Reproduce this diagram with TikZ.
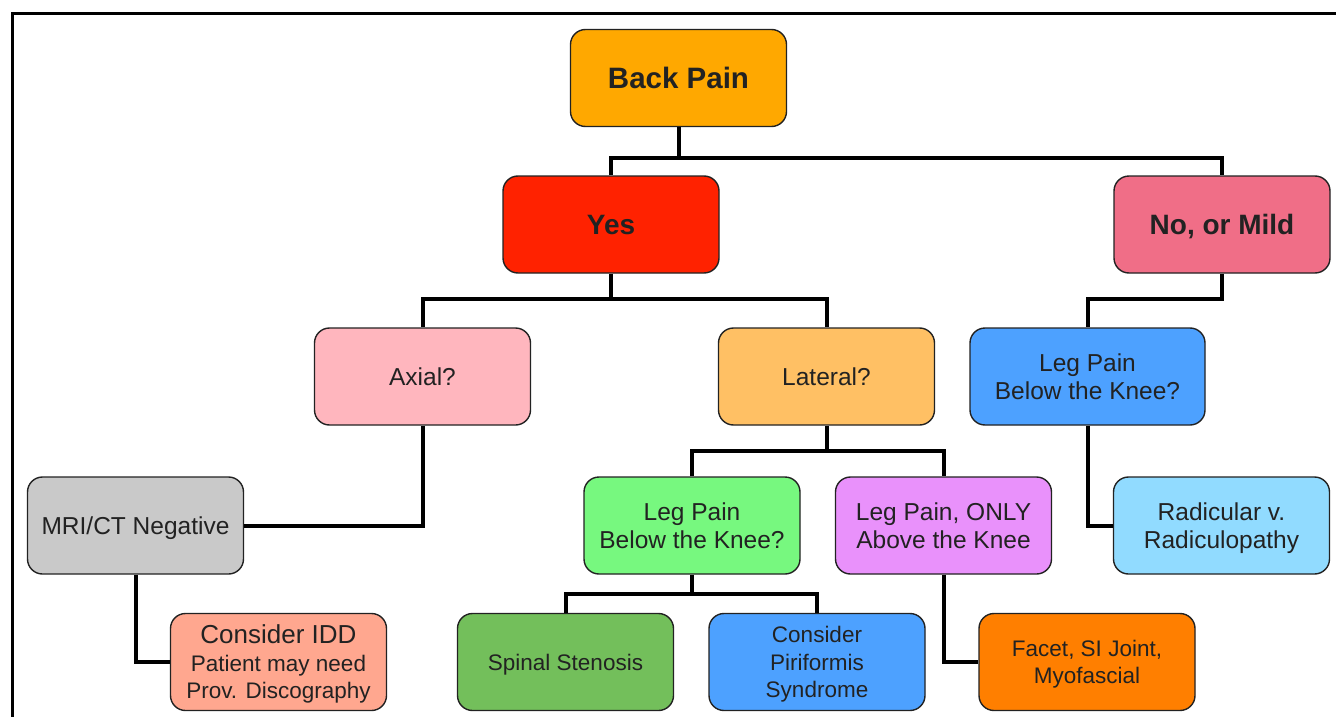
\documentclass[tikz,border=0pt]{standalone}
\usepackage{fontspec}
\setmainfont{Liberation Sans}
\usetikzlibrary{positioning}
\definecolor{txt}{HTML}{222222}
\definecolor{cBack}{HTML}{FFA800}
\definecolor{cYes}{HTML}{FF2200}
\definecolor{cNo}{HTML}{F06E87}
\definecolor{cAxial}{HTML}{FFB6BE}
\definecolor{cLat}{HTML}{FFC064}
\definecolor{cBlue}{HTML}{4DA1FF}
\definecolor{cGray}{HTML}{C9C9C9}
\definecolor{cGreen}{HTML}{77F87F}
\definecolor{cViolet}{HTML}{E991FB}
\definecolor{cSky}{HTML}{91DBFF}
\definecolor{cSalmon}{HTML}{FFA78F}
\definecolor{cDkGreen}{HTML}{73BF5B}
\definecolor{cOrange}{HTML}{FF7F00}
\tikzset{
  box/.style={draw=txt, line width=1.4pt, rounded corners=15pt,
    minimum width=216pt, minimum height=97pt, align=center, inner sep=2pt,
    text depth=0pt,
    text=txt, font=\fontsize{24.5}{28.5}\selectfont},
  smallbox/.style={box, font=\fontsize{22.5}{27.5}\selectfont},
  bigbox/.style={box, font=\fontsize{28}{32}\selectfont\bfseries},
  conn/.style={draw=black, line width=4pt},
  frameline/.style={draw=black, line width=2.5pt}
}
\begin{document}
\begin{tikzpicture}[x=1pt,y=-1pt]
\useasboundingbox (0,0) rectangle (1336,717);
\draw[frameline] (12.3,717) -- (12.3,13.3) -- (1336,13.3);

\node[bigbox, fill=cBack, font=\fontsize{29.5}{32}\selectfont\bfseries] (bp) at (678.5,78) {Back Pain};
\node[bigbox, fill=cYes] (yes) at (611,224.5) {Yes};
\node[bigbox, fill=cNo] (no) at (1222,224.5) {No, or Mild};
\node[box, fill=cAxial] (axial) at (422.5,376.5) {Axial?};
\node[box, fill=cLat] (lat) at (826.5,376.5) {Lateral?};
\node[box, fill=cBlue, minimum width=235pt] (legr) at (1087.5,376.5) {Leg Pain\\Below the Knee?};
\node[box, fill=cGray] (mri) at (135.5,525.5) {MRI/CT Negative};
\node[box, fill=cGreen] (legm) at (692,525.5) {Leg Pain\\Below the Knee?};
\node[box, fill=cViolet] (lego) at (943.5,525.5) {Leg Pain, ONLY\\Above the Knee};
\node[box, fill=cSky] (rad) at (1221.5,525.5) {Radicular v.\\Radiculopathy};
\node[smallbox, fill=cSalmon] (idd) at (278.5,662) {{\fontsize{26}{28}\selectfont Consider IDD}\\Patient may need\\Prov. Discography};
\node[smallbox, fill=cDkGreen] (sten) at (565.5,662) {Spinal Stenosis};
\node[smallbox, fill=cBlue] (piri) at (817,662) {Consider\\Piriformis\\Syndrome};
\node[smallbox, fill=cOrange] (facet) at (1087,662) {Facet, SI Joint,\\Myofascial};

\coordinate (j1) at (678.5,158);
\draw[conn] (bp.south) -- (j1);
\draw[conn] (yes.north) |- (j1) -| (no.north);

\coordinate (j2) at (611,299);
\draw[conn] (yes.south) -- (j2);
\draw[conn] (axial.north) |- (j2) -| (lat.north);

\draw[conn] (no.south) |- (1087.5,299) -- (legr.north);

\draw[conn] (axial.south) |- (mri.east);

\coordinate (j3) at (826.5,451);
\draw[conn] (lat.south) -- (j3);
\draw[conn] (legm.north) |- (j3) -| (lego.north);

\coordinate (j4) at (692,594);
\draw[conn] (legm.south) -- (j4);
\draw[conn] (sten.north) |- (j4) -| (piri.north);

\draw[conn] (lego.south) |- (facet.west);
\draw[conn] (legr.south) |- (rad.west);
\draw[conn] (mri.south) |- (idd.west);
\end{tikzpicture}
\end{document}
